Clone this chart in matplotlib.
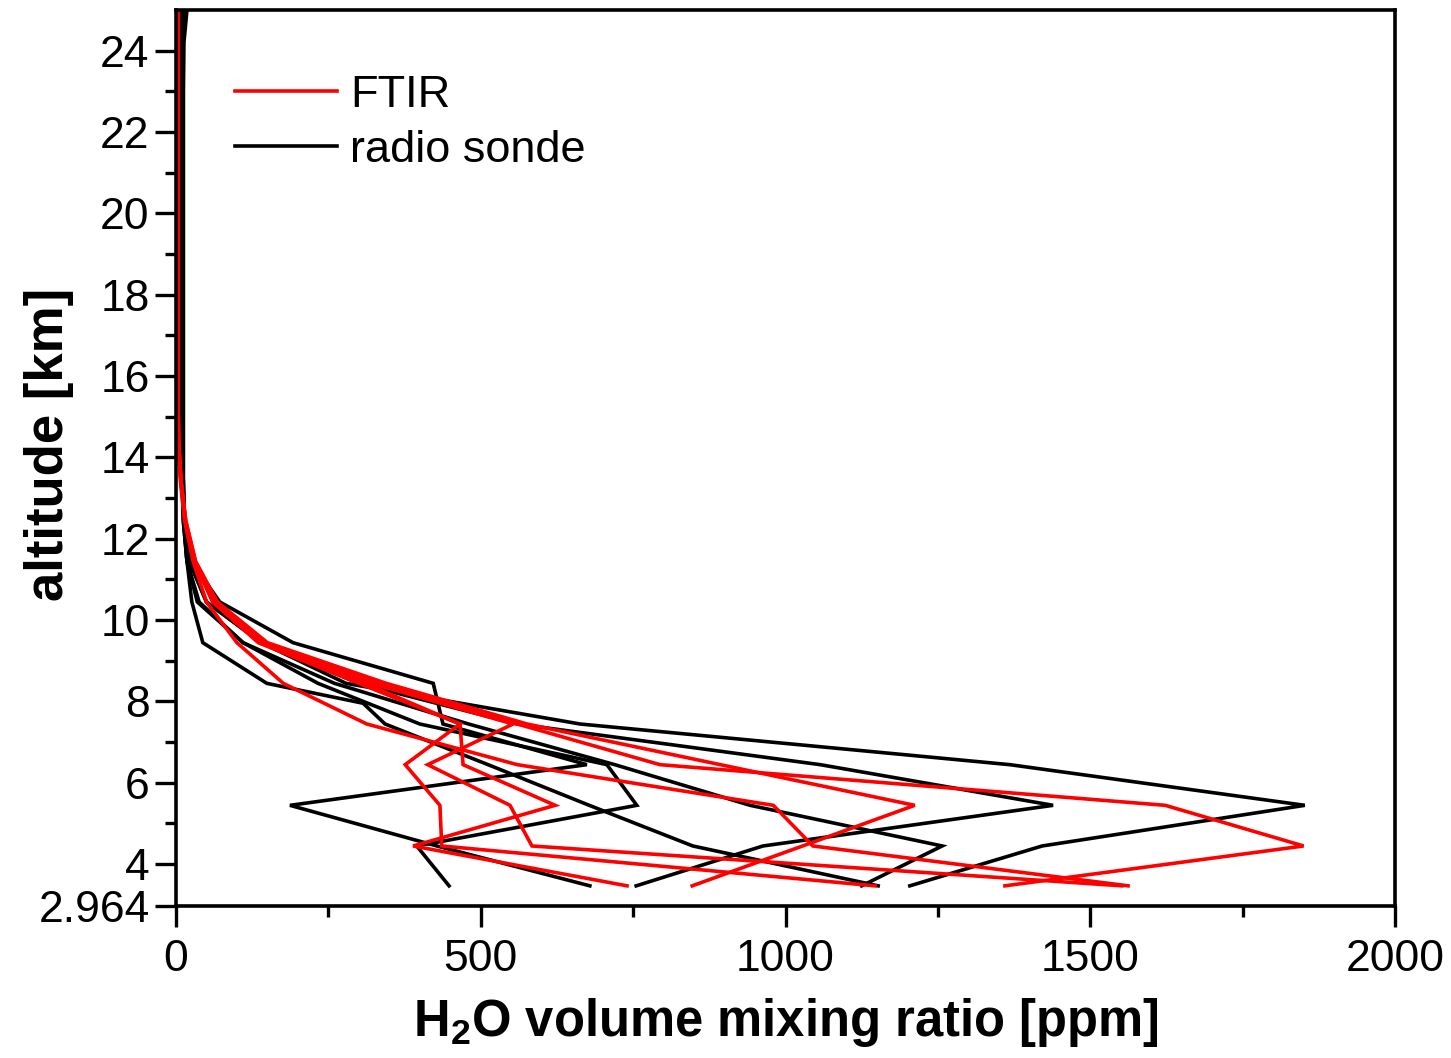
import matplotlib
matplotlib.use('Agg')
import matplotlib.pyplot as plt
from matplotlib.ticker import MultipleLocator, FixedLocator
from matplotlib.lines import Line2D

plt.rcParams['font.family'] = ['Liberation Sans', 'DejaVu Sans']
plt.rcParams['mathtext.fontset'] = 'custom'
plt.rcParams['mathtext.rm'] = 'Liberation Sans:bold'
plt.rcParams['mathtext.bf'] = 'Liberation Sans:bold'
plt.rcParams['mathtext.default'] = 'rm'

# ---------------- data (ppm vs altitude km) ----------------
alt_ftir = [3.46, 4.44, 5.44, 6.44, 7.44, 8.44, 9.44, 10.44, 11.44, 12.44,
            13.44, 14.44, 16.0, 18.0, 20.0, 22.0, 24.0, 25.0]
ftir_1 = [1360, 1850, 1623, 794, 560, 335, 146, 67, 32, 16, 8, 4, 3, 3, 3, 3, 3, 3]
ftir_2 = [1562, 1045, 980, 560, 313, 176, 100, 50, 28, 14, 7, 4, 3, 3, 3, 3, 3, 3]
ftir_3 = [1552, 584, 548, 413, 553, 320, 140, 62, 30, 15, 8, 4, 3, 3, 3, 3, 3, 3]
ftir_4 = [1147, 436, 433, 376, 466, 300, 135, 60, 30, 15, 8, 4, 3, 3, 3, 3, 3, 3]
ftir_5 = [740, 389, 622, 471, 466, 310, 138, 62, 30, 15, 8, 4, 3, 3, 3, 3, 3, 3]
ftir_6 = [847, 1028, 1212, 893, 576, 345, 150, 68, 32, 16, 8, 4, 3, 3, 3, 3, 3, 3]

alt_sonde = [3.46, 4.44, 5.44, 6.44, 7.44, 8.44, 9.44, 10.44, 11.44, 12.44,
             13.5, 15.0, 17.0, 19.0, 21.0, 23.0, 24.2, 25.0]
sonde_1 = [448, 395, 756, 707, 400, 233, 110, 35, 18, 13, 11, 11, 11, 11, 11, 11, 11, 11]
sonde_2 = [679, 428, 187, 674, 438, 422, 192, 72, 25, 14, 12, 12, 12, 12, 12, 12, 12, 12]
sonde_3 = [755, 963, 1439, 1057, 560, 300, 140, 50, 22, 13, 11, 11, 11, 11, 11, 11, 11, 11]
sonde_4 = [1125, 1257, 942, 720, 480, 260, 110, 38, 18, 12, 10, 10, 10, 10, 10, 10, 10, 10]
alt_sonde_5 = [3.46, 4.44, 5.44, 6.44, 7.44, 7.95, 8.44, 9.44, 10.44, 11.44, 12.44,
               13.5, 15.0, 17.0, 19.0, 21.0, 23.0, 25.0]
sonde_5 = [1152, 848, 678, 512, 343, 307, 149, 44, 26, 18, 12, 10, 10, 10, 10, 10, 10, 10]
sonde_6 = [1204, 1421, 1852, 1368, 663, 279, 140, 50, 22, 14, 12, 12, 12, 12, 12, 12, 13, 18]

ftir_profiles = [ftir_1, ftir_2, ftir_3, ftir_4, ftir_5, ftir_6]
sonde_profiles = [(alt_sonde, sonde_1), (alt_sonde, sonde_2), (alt_sonde, sonde_3),
                  (alt_sonde, sonde_4), (alt_sonde_5, sonde_5), (alt_sonde, sonde_6)]

y_ticks = [2.964, 4, 6, 8, 10, 12, 14, 16, 18, 20, 22, 24]
y_tick_labels = ['2.964', '4', '6', '8', '10', '12', '14', '16', '18', '20', '22', '24']
y_minor = [5, 7, 9, 11, 13, 15, 17, 19, 21, 23]

# ---------------- figure ----------------
W, H = 1451, 1058
fig = plt.figure(figsize=(W / 100, H / 100), dpi=100)
ax = fig.add_axes([176 / W, 1 - 906 / H, 1219 / W, 896 / H])

lw = 2.6
for a, v in sonde_profiles:
    ax.plot(v, a, color='black', lw=lw, solid_joinstyle='miter')
for v in ftir_profiles:
    ax.plot(v, alt_ftir, color='#ff0000', lw=lw, solid_joinstyle='miter')

ax.set_xlim(0, 2000)
ax.set_ylim(2.964, 25)

ax.set_yticks(y_ticks)
ax.set_yticklabels(y_tick_labels)
ax.yaxis.set_minor_locator(FixedLocator(y_minor))
ax.xaxis.set_major_locator(MultipleLocator(500))
ax.xaxis.set_minor_locator(MultipleLocator(250))

ax.tick_params(which='major', direction='out', length=15, width=2.4,
               labelsize=32, pad=4, top=False, right=False)
ax.tick_params(axis='x', which='major', pad=9)
ax.tick_params(which='minor', direction='out', length=8, width=2.4,
               top=False, right=False)
for s in ax.spines.values():
    s.set_linewidth(2.6)

ax.set_xlabel('H$_2$O volume mixing ratio [ppm]', fontsize=36.5, fontweight='bold')
ax.set_ylabel('altitude [km]', fontsize=38, fontweight='bold')
ax.xaxis.set_label_coords(0.5, -0.1)
ax.yaxis.set_label_coords(-0.084, 0.515)

handles = [Line2D([], [], color='#ff0000', lw=lw), Line2D([], [], color='black', lw=lw)]
ax.legend(handles, ['FTIR', 'radio sonde'], loc='upper left',
          bbox_to_anchor=((235 - 176) / 1219, 0.928), frameon=False,
          fontsize=32.5, handlelength=2.25, handletextpad=0.3,
          labelspacing=0.32, borderpad=0, borderaxespad=0)

fig.savefig('out.png', dpi=100)
